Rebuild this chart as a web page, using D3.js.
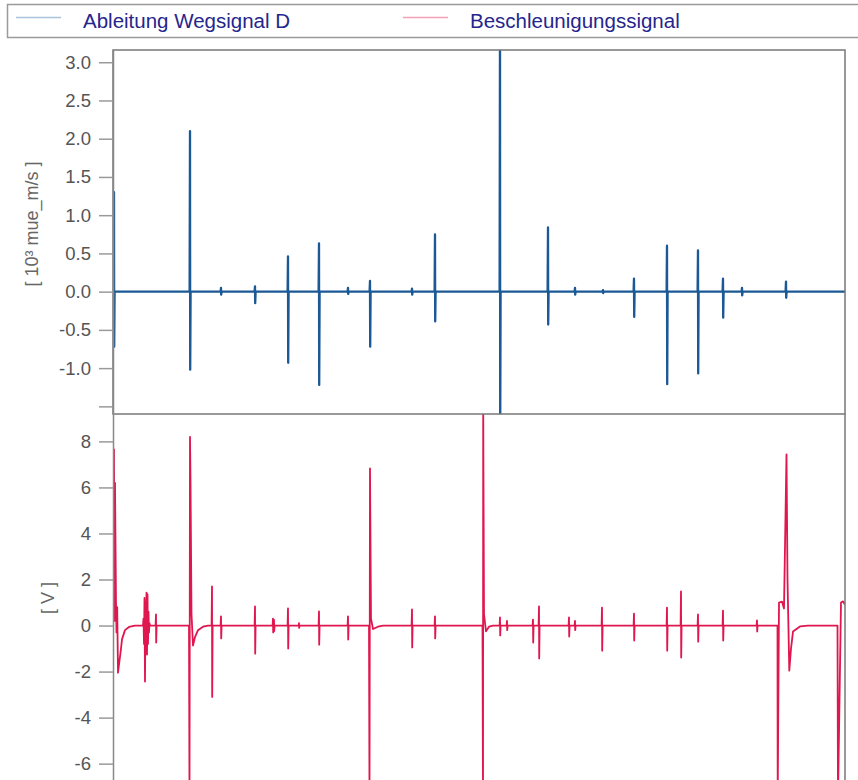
<!DOCTYPE html>
<html>
<head>
<meta charset="utf-8">
<script src="https://cdn.jsdelivr.net/npm/d3@7"></script>
<style>
	html, body { margin: 0; padding: 0; background: #fff; overflow: hidden; }
	svg { display: block; font-family: 'Liberation Sans', Arial, sans-serif; }
</style>
</head>
<body>
<svg id="chart" width="858" height="780"></svg>
<script>
// time axis in seconds
const timeRange = [0, 73.2];

const seriesNames = ['Ableitung Wegsignal D', 'Beschleunigungssignal'];

// upper panel: derivative of displacement signal [10³ mue_m/s]
const dispDomain = [-1.6, 3.16];
const dispTicks = [-1.5, -1, -0.5, 0, 0.5, 1, 1.5, 2, 2.5, 3];
// [time, peak, trough]
const dispSpikes = [
	[0.1, 1.3, -0.72],
	[7.7, 2.1, -1.02],
	[10.8, 0.05, -0.04],
	[14.2, 0.07, -0.15],
	[17.5, 0.46, -0.93],
	[20.6, 0.63, -1.22],
	[23.5, 0.05, -0.03],
	[25.7, 0.14, -0.72],
	[29.9, 0.04, -0.04],
	[32.2, 0.75, -0.39],
	[38.7, 3.5, -1.8],
	[43.5, 0.84, -0.43],
	[46.2, 0.05, -0.04],
	[49.0, 0.02, -0.02],
	[52.1, 0.17, -0.33],
	[55.4, 0.6, -1.21],
	[58.5, 0.54, -1.07],
	[61.0, 0.17, -0.34],
	[62.9, 0.05, -0.05],
	[67.3, 0.13, -0.08]
];

// lower panel: acceleration signal [V]
const accDomain = [-6.71, 9.19];
const accTicks = [-6, -4, -2, 0, 2, 4, 6, 8];
// short spikes [time, peak, trough]
const accSpikes = [
	[4.3, 0.48, -0.74],
	[9.9, 1.7, -3.1],
	[10.8, 0.4, -0.56],
	[14.2, 0.83, -1.22],
	[16.0, 0.3, -0.3],
	[16.1, 0.25, -0.25],
	[17.5, 0.74, -1.0],
	[18.6, 0.1, -0.1],
	[20.6, 0.61, -0.83],
	[23.5, 0.4, -0.61],
	[29.9, 0.7, -0.95],
	[32.2, 0.4, -0.56],
	[38.7, 0.35, -0.43],
	[39.4, 0.2, -0.2],
	[42.0, 0.26, -0.74],
	[42.6, 0.83, -1.43],
	[45.6, 0.35, -0.48],
	[46.2, 0.2, -0.2],
	[48.9, 0.78, -1.09],
	[52.1, 0.52, -0.65],
	[55.4, 0.78, -1.09],
	[56.8, 1.48, -1.39],
	[58.5, 0.48, -0.7],
	[61.0, 0.65, -0.65],
	[64.4, 0.22, -0.26]
];
// impacts with ringing / recovery, [time, value]
const accImpacts = [
	[[0.0, 0.3], [0.1, 7.65], [0.15, 0.2], [0.2, 6.2], [0.3, 1.0], [0.35, -0.3], [0.42, 0.8], [0.5, -2.05],
	 [0.6, -1.7], [0.8, -1.0], [0.9, -0.6], [1.2, -0.2], [1.6, -0.06], [2.2, 0]],
	[[3.0, 0], [3.05, 0.3], [3.1, -0.8], [3.15, 1.2], [3.2, -2.43], [3.25, 1.0], [3.3, -1.0], [3.35, 1.43],
	 [3.4, -1.26], [3.45, 1.35], [3.5, -0.8], [3.55, 0.6], [3.6, -0.3], [3.65, 0.1], [3.7, 0]],
	[[7.6, 0], [7.65, -7.5], [7.7, 8.2], [7.75, 6.3], [7.85, 0.5], [8.0, -0.87], [8.2, -0.5], [8.5, -0.2],
	 [9.0, -0.05], [9.5, 0]],
	[[25.6, 0], [25.65, -7.5], [25.7, 6.83], [25.8, 0.3], [26.0, -0.15], [26.5, -0.05], [27.0, 0]],
	[[36.95, 0], [37.0, -7.5], [37.02, 9.5], [37.1, 0.5], [37.3, -0.25], [37.6, -0.05], [38.0, 0]],
	[[66.45, 0], [66.47, -7.5], [66.6, 1.0], [66.9, 1.04], [67.1, 0.74], [67.35, 7.43], [67.45, 2.0],
	 [67.63, -1.96], [67.8, -1.0], [68.0, -0.26], [68.7, -0.04], [69.5, 0]],
	[[72.45, 0], [72.5, -7.5], [72.8, 1.0], [73.0, 1.05], [73.2, 0.9]]
];

//=====================================================================

const svg = d3.select('#chart');

const plotLeft = 113, plotRight = 845;
const topPanel = {top: 50, bottom: 414};
const botPanel = {top: 414, bottom: 780};

const x = d3.scaleLinear().domain(timeRange).range([plotLeft, plotRight]);
const yDisp = d3.scaleLinear().domain(dispDomain).range([topPanel.bottom, topPanel.top]);
const yAcc = d3.scaleLinear().domain(accDomain).range([botPanel.bottom, botPanel.top]);

function spikesToPoints(spikes) {
	const pts = [];
	spikes.forEach(([t, up, down]) => {
		pts.push([t - 0.04, 0], [t, up], [t + 0.02, down], [t + 0.06, 0]);
	});
	return pts;
}

function buildSeries(spikes, extra) {
	const pts = spikesToPoints(spikes).concat(...extra);
	pts.sort((a, b) => a[0] - b[0]);
	if (pts[0][0] > timeRange[0]) pts.unshift([timeRange[0], 0]);
	if (pts[pts.length - 1][0] < timeRange[1]) pts.push([timeRange[1], 0]);
	return pts;
}

const dispData = buildSeries(dispSpikes, []);
const accData = buildSeries(accSpikes, accImpacts);

// legend
svg.append('rect')
	.attr('x', 7.5).attr('y', 4.5)
	.attr('width', 860).attr('height', 33)
	.attr('fill', '#fff')
	.attr('stroke', '#9a9a9a')
	.attr('stroke-width', 1.5);

const legendItems = [
	{name: seriesNames[0], color: '#a9c3da', x0: 16, tx: 83},
	{name: seriesNames[1], color: '#f1a3b3', x0: 403, tx: 470}
];
legendItems.forEach(d => {
	svg.append('line')
		.attr('x1', d.x0).attr('x2', d.x0 + 45)
		.attr('y1', 17.5).attr('y2', 17.5)
		.attr('stroke', d.color)
		.attr('stroke-width', 1.5);
	svg.append('text')
		.attr('x', d.tx).attr('y', 28)
		.attr('fill', '#25258c')
		.attr('font-size', '20.5px')
		.text(d.name);
});

// clip paths
const defs = svg.append('defs');
defs.append('clipPath').attr('id', 'clip-top')
	.append('rect')
	.attr('x', plotLeft).attr('y', topPanel.top)
	.attr('width', plotRight - plotLeft).attr('height', topPanel.bottom - topPanel.top);
defs.append('clipPath').attr('id', 'clip-bot')
	.append('rect')
	.attr('x', plotLeft).attr('y', botPanel.top)
	.attr('width', plotRight - plotLeft).attr('height', botPanel.bottom - botPanel.top + 10);

// series
svg.append('path')
	.datum(accData)
	.attr('clip-path', 'url(#clip-bot)')
	.attr('fill', 'none')
	.attr('stroke', '#e0164f')
	.attr('stroke-width', 1.8)
	.attr('stroke-linejoin', 'round')
	.attr('d', d3.line().x(d => x(d[0])).y(d => yAcc(d[1])));

svg.append('path')
	.datum(dispData)
	.attr('clip-path', 'url(#clip-top)')
	.attr('fill', 'none')
	.attr('stroke', '#1b5896')
	.attr('stroke-width', 2.3)
	.attr('stroke-linejoin', 'round')
	.attr('d', d3.line().x(d => x(d[0])).y(d => yDisp(d[1])));

// frames
svg.append('rect')
	.attr('x', plotLeft).attr('y', topPanel.top)
	.attr('width', plotRight - plotLeft).attr('height', topPanel.bottom - topPanel.top)
	.attr('fill', 'none')
	.attr('stroke', '#777')
	.attr('stroke-width', 1.5);
svg.append('line')
	.attr('x1', plotRight).attr('x2', plotRight)
	.attr('y1', botPanel.top).attr('y2', botPanel.bottom + 5)
	.attr('stroke', '#777')
	.attr('stroke-width', 1.5);

// axes
function styleAxis(g) {
	g.select('.domain').attr('stroke', '#888').attr('stroke-width', 1.5);
	g.selectAll('.tick line').attr('stroke', '#9a9a9a').attr('stroke-width', 1.5);
	g.selectAll('.tick text')
		.attr('fill', '#555')
		.attr('font-size', '18.5px')
		.attr('font-family', "'Liberation Sans', Arial, sans-serif");
}

svg.append('g')
	.attr('transform', `translate(${plotLeft},0)`)
	.call(d3.axisLeft(yDisp).tickValues(dispTicks).tickSize(14).tickPadding(8).tickSizeOuter(0)
		.tickFormat(d => d === -1.5 ? '' : d.toFixed(1)))
	.call(styleAxis);

svg.append('g')
	.attr('transform', `translate(${plotLeft},0)`)
	.call(d3.axisLeft(yAcc).tickValues(accTicks).tickSize(14).tickPadding(8).tickSizeOuter(0)
		.tickFormat(d => String(d)))
	.call(styleAxis);

// axis titles
svg.append('text')
	.attr('transform', 'translate(38,224) rotate(-90)')
	.attr('text-anchor', 'middle')
	.attr('fill', '#666')
	.attr('font-size', '18px')
	.text('[ 10³ mue_m/s ]');

svg.append('text')
	.attr('transform', 'translate(54,598) rotate(-90)')
	.attr('text-anchor', 'middle')
	.attr('fill', '#666')
	.attr('font-size', '18px')
	.text('[ V ]');
</script>
</body>
</html>
